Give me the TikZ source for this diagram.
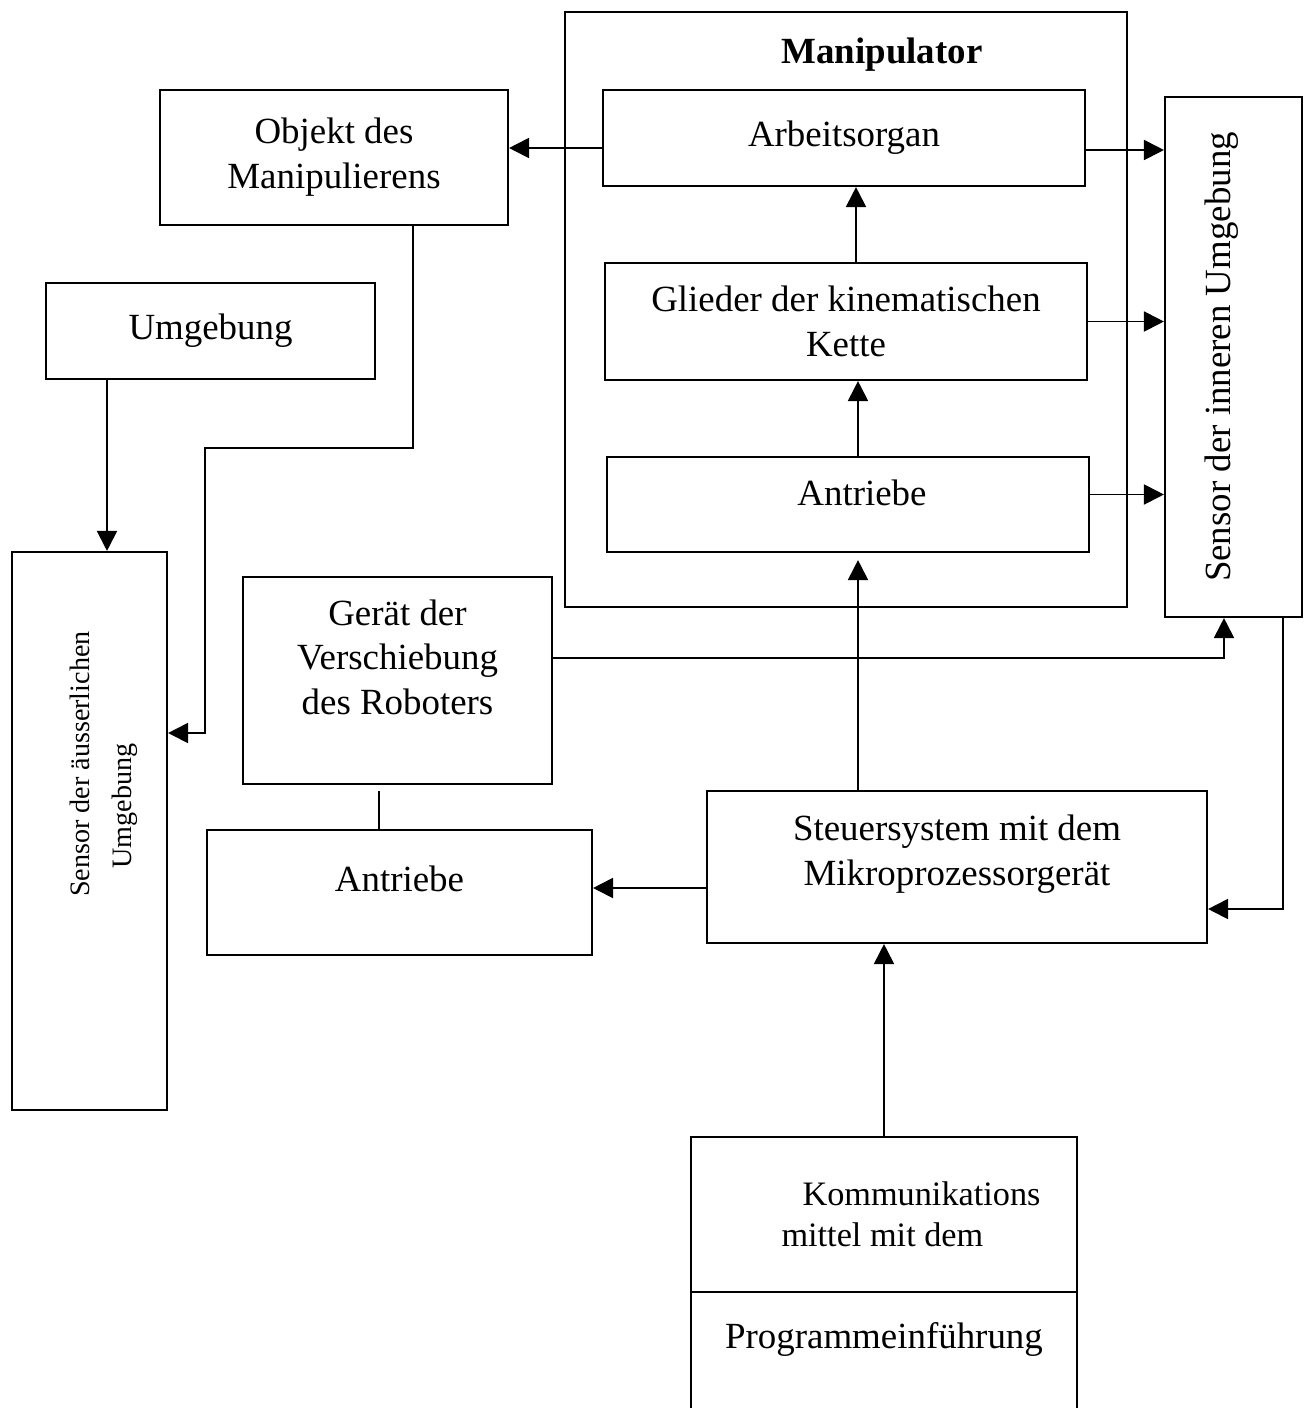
\documentclass[tikz,border=0pt]{standalone}
\usepackage{fontspec}
\setmainfont{Liberation Serif}
\usetikzlibrary{positioning,arrows.meta}

\begin{document}
\begin{tikzpicture}[box/.style={draw,line width=1.2pt,align=center,inner sep=0pt,font=\fontsize{21}{25.5}\selectfont},line/.style={-{Triangle[length=4mm,width=4mm]},line width=1.1pt},plain/.style={line width=1.1pt}]
\useasboundingbox (0,0) rectangle (26.12,-28.16);
\clip (0,0) rectangle (26.12,-28.16);
% Manipulator
\node[box,minimum width=11.24cm,minimum height=11.9cm] (manip) at (16.92,-6.19) {};
\node[font=\bfseries\fontsize{21}{25.5}\selectfont] (titel) at (17.64,-1.1) {Manipulator};
\node[box,minimum width=9.64cm,minimum height=1.92cm] (arb) at (16.88,-2.76) {Arbeitsorgan};
\node[box,minimum width=9.64cm,minimum height=2.34cm] (glied) at (16.92,-6.43) {Glieder der kinematischen\\Kette};
\node[box,minimum width=9.64cm,minimum height=1.9cm,text depth=4.6mm] (antrI) at (16.96,-10.09) {\hspace*{5.6mm}Antriebe};
% gedreht: east = oben, west = unten, north = links, south = rechts
\node[box,rotate=90,minimum width=10.4cm,minimum height=2.74cm,text depth=6.4mm] (sensI) at (24.67,-7.14) {Sensor der inneren Umgebung};
% links
\node[box,minimum width=6.96cm,minimum height=2.7cm] (objekt) at (6.68,-3.15) {Objekt des\\Manipulierens};
\node[box,minimum width=6.58cm,minimum height=1.92cm] (umg) at (4.21,-6.62) {Umgebung};
\node[box,rotate=90,minimum width=11.16cm,minimum height=3.1cm,font=\fontsize{16}{24}\selectfont,text height=1.8cm] (sensA) at (1.79,-16.62) {\hspace*{26.8mm}Sensor der äusserlichen\\\hspace*{10mm}Umgebung};
\node[box,minimum width=6.18cm,minimum height=4.14cm,text depth=9.4mm] (geraet) at (7.95,-13.61) {Gerät der\\Verschiebung\\des Roboters};
\node[box,minimum width=7.7cm,minimum height=2.5cm,text depth=5.6mm] (antrA) at (7.99,-17.85) {Antriebe};
% Steuerung
\node[box,minimum width=10cm,minimum height=3.04cm,text depth=6.6mm] (steuer) at (19.14,-17.34) {Steuersystem mit dem\\Mikroprozessorgerät};
\node[box,align=left,minimum width=7.72cm,minimum height=3.1cm,font=\fontsize{19.5}{23.5}\selectfont] (komm) at (17.68,-24.29) {\hspace*{15mm}Kommunikations\\\hspace*{10.8mm}mittel mit dem};
\node[box,minimum width=7.72cm,minimum height=4.16cm,text depth=24.4mm] (prog) at (17.68,-27.92) {Programmeinführung};
\coordinate (knick) at (4.1,-8.96);
% Verbindungen
\draw[line] ([yshift=-2mm]arb.west) -- ([yshift=-2mm]arb.west -| objekt.east);
\draw[line] ([yshift=-2.4mm]arb.east) -- ([yshift=-2.4mm]arb.east -| sensI.north);
\draw[line] (glied.east) -- (glied.east -| sensI.north);
\draw[line] ([yshift=2mm]antrI.east) -- ([yshift=2mm]antrI.east -| sensI.north);
\draw[line] ([xshift=2mm]glied.north) -- ([xshift=2mm]glied.north |- arb.south);
\draw[line] ([xshift=2mm]antrI.north) -- ([xshift=2mm]antrI.north |- glied.south);
\draw[line,shorten >=1.4mm] ([xshift=2mm]antrI.south |- steuer.north) -- ([xshift=2mm]antrI.south);
\draw[line] ([yshift=4.5mm]geraet.east) -| ([xshift=-1.9mm]sensI.west);
\draw[line] ([xshift=9.9mm]sensI.west) |- ([yshift=-8.4mm]steuer.east);
\draw[line] ([yshift=-4.2mm]steuer.west) -- ([yshift=-4.2mm]steuer.west -| antrA.east);
\draw[plain,shorten <=1.2mm] ([xshift=-3.7mm]geraet.south) -- ([xshift=-3.7mm]geraet.south |- antrA.north);
\draw[line] ([xshift=-20.7mm]umg.south) -- ([xshift=-20.7mm]umg.south |- sensA.east);
\draw[line] ([xshift=15.8mm]objekt.south) |- (knick) |- ([yshift=19.6mm]sensA.south);
\draw[line] (komm.north) -- (komm.north |- steuer.south);
\end{tikzpicture}
\end{document}
